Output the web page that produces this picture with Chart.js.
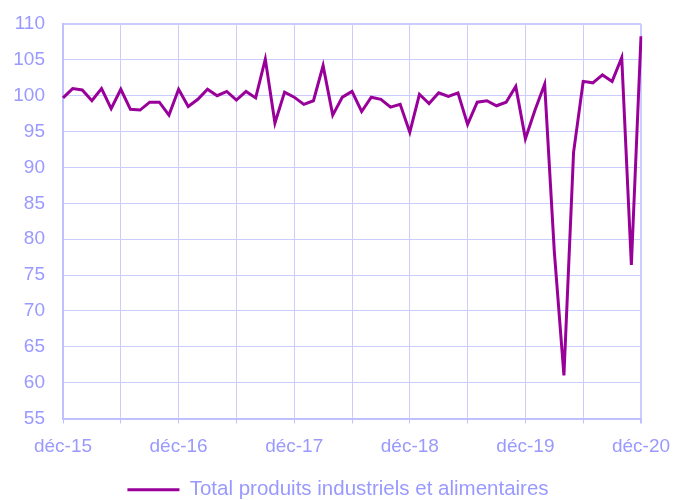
<!DOCTYPE html>
<html>
<head>
<meta charset="utf-8">
<script src="https://cdn.jsdelivr.net/npm/chart.js@4/dist/chart.umd.min.js"></script>
<style>
html,body{margin:0;padding:0;background:#fff;}
#wrap{width:676px;height:500px;}
</style>
</head>
<body>
<div id="wrap"><canvas id="c" width="676" height="500"></canvas></div>
<script>
const months = [
 'déc-15','janv-16','févr-16','mars-16','avr-16','mai-16','juin-16','juil-16','août-16','sept-16','oct-16','nov-16',
 'déc-16','janv-17','févr-17','mars-17','avr-17','mai-17','juin-17','juil-17','août-17','sept-17','oct-17','nov-17',
 'déc-17','janv-18','févr-18','mars-18','avr-18','mai-18','juin-18','juil-18','août-18','sept-18','oct-18','nov-18',
 'déc-18','janv-19','févr-19','mars-19','avr-19','mai-19','juin-19','juil-19','août-19','sept-19','oct-19','nov-19',
 'déc-19','janv-20','févr-20','mars-20','avr-20','mai-20','juin-20','juil-20','août-20','sept-20','oct-20','nov-20',
 'déc-20'
];
const seriesName = 'Total produits industriels et alimentaires';
const totalValues = [
 99.7, 101.0, 100.8, 99.3, 101.0, 98.2, 100.9, 98.1, 98.0, 99.1, 99.1, 97.3,
 100.9, 98.5, 99.5, 100.9, 100.0, 100.6, 99.4, 100.6, 99.7, 105.1, 96.2, 100.5,
 99.8, 98.8, 99.3, 104.2, 97.3, 99.8, 100.6, 97.8, 99.8, 99.5, 98.4, 98.8,
 94.9, 100.2, 98.9, 100.4, 99.9, 100.4, 96.0, 99.1, 99.3, 98.6, 99.1, 101.3,
 94.0, 98.0, 101.6, 78.3, 61.0, 92.1, 102.0, 101.8, 102.9, 102.0, 105.3, 76.4,
 108.3
];
const yMin = 55, yMax = 110, yStep = 5;

const TEXT = '#9999ff';
const GRID = '#ccccff';
const AXIS = '#c0c0ff';
const LINE = '#990099';
const FONT = 'Liberation Sans, Arial, sans-serif';

new Chart(document.getElementById('c'), {
  type: 'line',
  data: {
    labels: months,
    datasets: [{
      label: seriesName,
      data: totalValues,
      borderColor: LINE,
      backgroundColor: LINE,
      borderWidth: 3,
      pointRadius: 0,
      tension: 0,
      fill: false
    }]
  },
  options: {
    responsive: false,
    animation: false,
    devicePixelRatio: 1,
    layout: { padding: { left: 0, right: 0, top: 0, bottom: -10 } },
    plugins: {
      tooltip: { enabled: false },
      legend: {
        position: 'bottom',
        labels: {
          color: TEXT,
          font: { family: FONT, size: 20.5 },
          boxWidth: 52,
          boxHeight: 3,
          padding: 2,
          generateLabels: (chart) => [{
            text: seriesName,
            fillStyle: LINE,
            strokeStyle: LINE,
            lineWidth: 0,
            hidden: false,
            datasetIndex: 0,
            fontColor: TEXT
          }]
        }
      }
    },
    scales: {
      x: {
        type: 'category',
        offset: false,
        afterFit: (s) => { s.height = 59; s.paddingLeft = 0; s.paddingRight = 35; },
        border: { display: true, color: AXIS, width: 2 },
        grid: {
          drawTicks: true,
          tickLength: 5,
          color: (ctx) => (ctx.index % 6 === 0 ? GRID : 'rgba(0,0,0,0)'),
          tickColor: (ctx) => (ctx.index % 6 === 0 ? AXIS : 'rgba(0,0,0,0)'),
          lineWidth: (ctx) => (ctx.index === months.length - 1 ? 2 : 1)
        },
        ticks: {
          autoSkip: false,
          maxRotation: 0,
          minRotation: 0,
          padding: 12,
          color: TEXT,
          font: { family: FONT, size: 19 },
          callback: function(v, i) { return i % 12 === 0 ? this.getLabelForValue(v) : ''; }
        }
      },
      y: {
        min: yMin,
        max: yMax,
        afterFit: (s) => { s.width = 63; s.paddingTop = 24; s.paddingBottom = 0; },
        border: { display: true, color: AXIS, width: 2 },
        grid: {
          drawTicks: false,
          color: GRID,
          lineWidth: (ctx) => (ctx.tick && ctx.tick.value === yMax ? 2 : 1)
        },
        ticks: {
          stepSize: yStep,
          padding: 18,
          color: TEXT,
          font: { family: FONT, size: 19 }
        }
      }
    }
  }
});
</script>
</body>
</html>
